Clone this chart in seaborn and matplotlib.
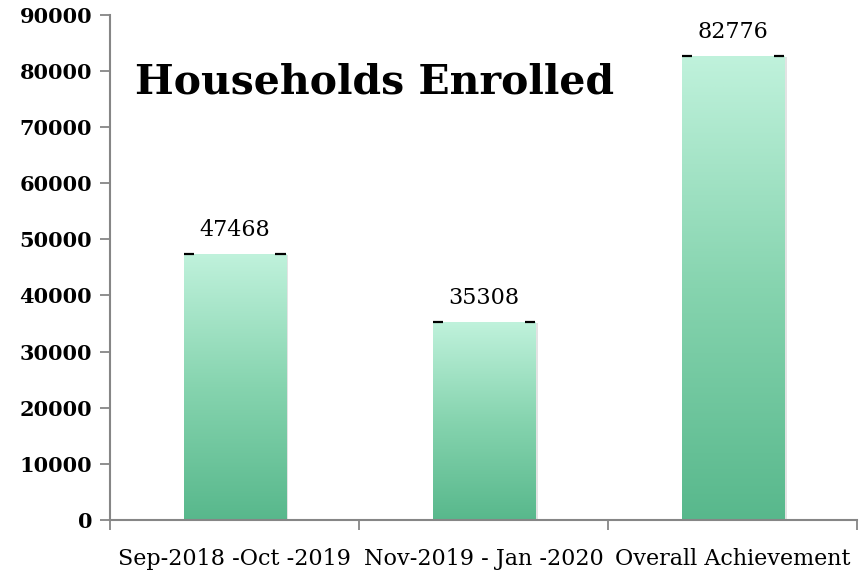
import numpy as np
import pandas as pd
import matplotlib
matplotlib.use("Agg")
import matplotlib.pyplot as plt
import matplotlib.patheffects as pe
import seaborn as sns
from matplotlib.colors import LinearSegmentedColormap

# data
periods = ["Sep-2018 -Oct -2019", "Nov-2019 - Jan -2020", "Overall Achievement"]
households = [47468, 35308, 82776]
y_ticks = list(range(0, 90001, 10000))

df = pd.DataFrame({"period": periods, "households": households})

sns.set_theme(style="white")
plt.rcParams["font.family"] = ["DejaVu Serif"]
plt.rcParams["text.color"] = "black"
plt.rcParams["xtick.labelcolor"] = "black"
plt.rcParams["ytick.labelcolor"] = "black"

fig = plt.figure(figsize=(8.6, 5.77), dpi=100)
ax = fig.add_axes([0.128, 0.099, 0.869, 0.875])

sns.barplot(data=df, x="period", y="households", ax=ax, width=0.41,
            color="#8fd9b6", saturation=1, edgecolor="none")

# gradient fill, light mint on top to green at the bottom
cmap = LinearSegmentedColormap.from_list("mint", ["#58b88c", "#86d4af", "#c0f2dc"])
grad = np.linspace(0, 1, 512).reshape(-1, 1)
for bar in ax.patches:
    x0, w, h = bar.get_x(), bar.get_width(), bar.get_height()
    bar.set_path_effects([pe.SimplePatchShadow(offset=(2, -1), shadow_rgbFace="#b0b0b0", alpha=0.35),
                          pe.Normal()])
    im = ax.imshow(grad, cmap=cmap, aspect="auto", origin="lower", interpolation="bilinear",
                   extent=(x0, x0 + w, 0, h), zorder=bar.get_zorder() + 0.1)
    im.set_clip_path(bar)
    # small dark caps at the top corners
    cap = w * 0.1
    ax.hlines(h, x0, x0 + cap, color="black", lw=1.6, zorder=5)
    ax.hlines(h, x0 + w - cap, x0 + w, color="black", lw=1.6, zorder=5)
    ax.text(x0 + w / 2, h + 2200, f"{int(h)}", ha="center", va="bottom",
            fontsize=16, color="black")

ax.set_xlim(-0.5, 2.5)
ax.set_ylim(0, 90000)
ax.set_yticks(y_ticks)
ax.set_yticklabels([str(v) for v in y_ticks], fontweight="bold", fontsize=15)
ax.set_xticks(range(len(periods)))
ax.set_xticklabels(periods, fontsize=16)
ax.set_xticks([-0.5, 0.5, 1.5, 2.5], minor=True)
ax.tick_params(axis="x", which="major", length=0, pad=20)
ax.tick_params(axis="x", which="minor", length=7, width=1.3, color="#868686", direction="out", bottom=True)
ax.tick_params(axis="y", length=7, width=1.3, color="#868686", direction="out", left=True, pad=6)
ax.set_xlabel("")
ax.set_ylabel("")

for side in ["top", "right"]:
    ax.spines[side].set_visible(False)
for side in ["left", "bottom"]:
    ax.spines[side].set_color("#868686")
    ax.spines[side].set_linewidth(1.5)

ax.text(0.033, 0.866, "Households Enrolled", transform=ax.transAxes,
        fontsize=29.5, fontweight="bold", va="center", ha="left", color="black")

fig.savefig("out.png", dpi=100)
